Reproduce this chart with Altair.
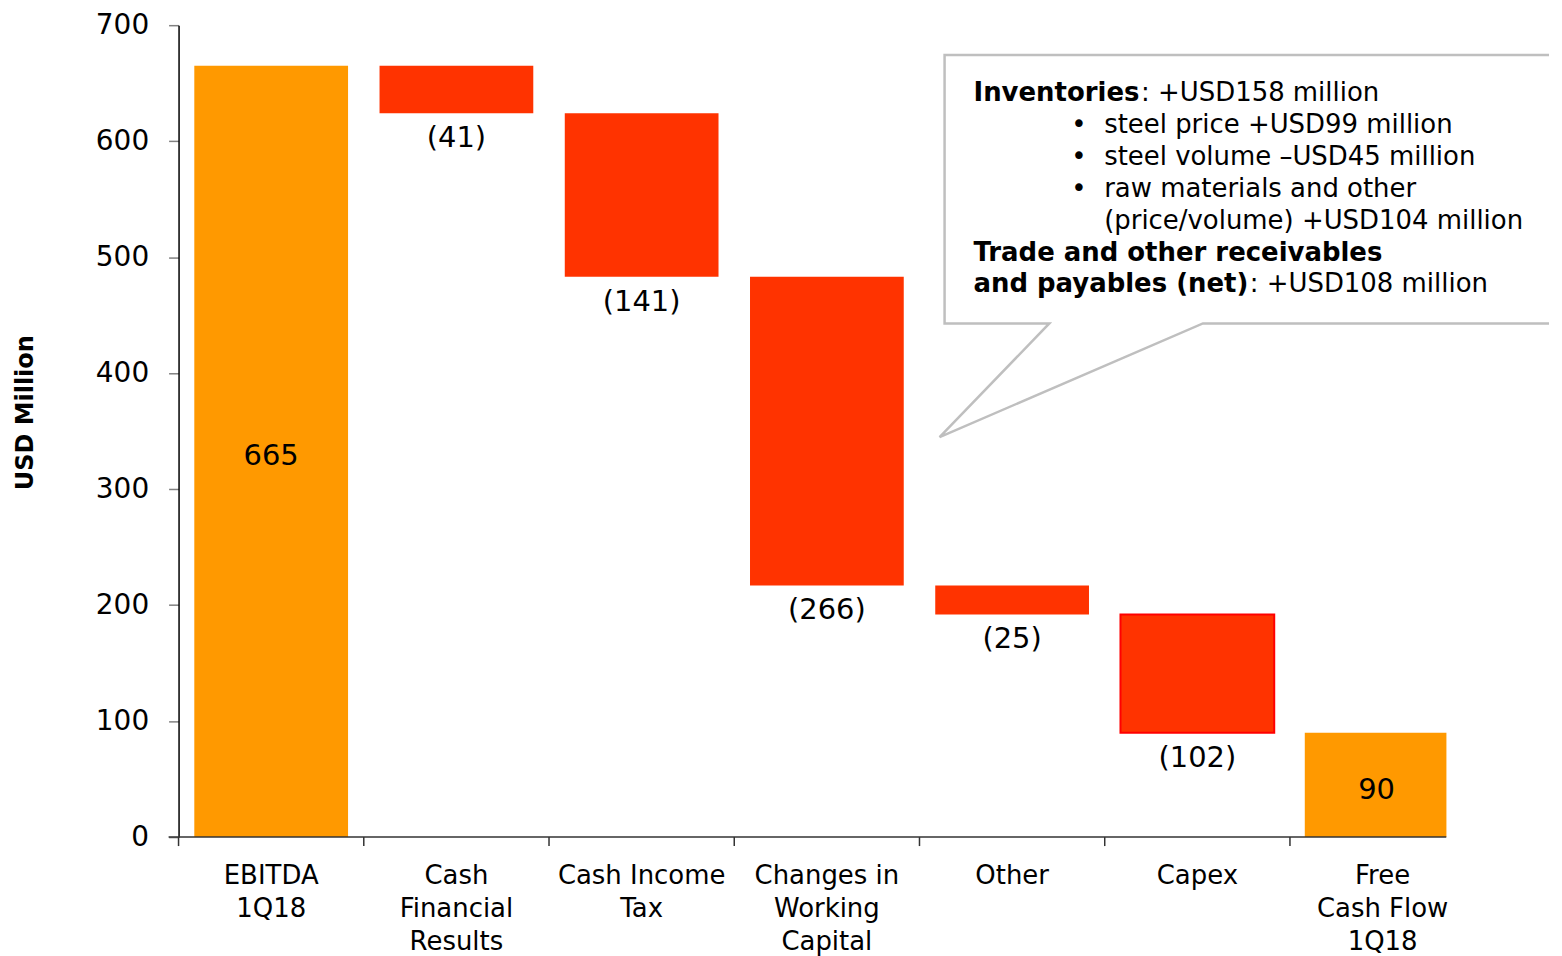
import altair as alt
import pandas as pd

FONT = "DejaVu Sans"

# ---- data ----
categories = ["EBITDA\n1Q18", "Cash\nFinancial\nResults", "Cash Income\nTax",
              "Changes in\nWorking\nCapital", "Other", "Capex", "Free\nCash Flow\n1Q18"]
values = [665, -41, -141, -266, -25, -102, 90]
kinds = ["total", "delta", "delta", "delta", "delta", "delta", "total"]
labels = ["665", "(41)", "(141)", "(266)", "(25)", "(102)", "90"]
y_ticks = [0, 100, 200, 300, 400, 500, 600, 700]

note_head = "Inventories"
note_head_rest = ": +USD158 million"
note_bullets = ["•", "•", "•"]
note_items = ["steel price +USD99 million", "steel volume \u2013USD45 million",
              "raw materials and other", "(price/volume) +USD104 million"]
note_trade = ["Trade and other receivables", "and payables (net)"]
note_trade_rest = ": +USD108 million"

# waterfall levels
starts, ends = [], []
level = 0
for v, k in zip(values, kinds):
    if k == "total":
        starts.append(0)
        ends.append(v)
        level = v
    else:
        starts.append(level)
        ends.append(level + v)
        level += v

df = pd.DataFrame({
    "cat": categories, "value": values, "kind": kinds, "label": labels,
    "start": starts, "end": ends,
})
df["mid"] = (df["start"] + df["end"]) / 2
df["last"] = [i == len(categories) - 1 for i in range(len(categories))]

W, H = 1300, 814


def xenc(**kw):
    return alt.X(
        "cat:N", sort=categories, title=None,
        scale=alt.Scale(paddingInner=0.17, paddingOuter=0.085),
        axis=alt.Axis(labelAngle=0, labelFontSize=26, labelLineHeight=33,
                      labelPadding=26, ticks=False, tickSize=0, domain=False,
                      labelColor="black", labelFont=FONT, labelLimit=0,
                      labelExpr="split(datum.label, '\\n')"),
        **kw)


yscale = alt.Scale(domain=[0, 700], nice=False)
color_enc = alt.Color("kind:N", scale=alt.Scale(domain=["total", "delta"],
                                                range=["#FF9900", "#FF3300"]),
                      legend=None)

bars = alt.Chart(df).transform_filter("!datum.last").mark_bar(stroke="#FF0000").encode(
    x=xenc(),
    y=alt.Y("start:Q", scale=yscale,
            axis=alt.Axis(values=y_ticks, tickSize=10, tickColor="#808080",
                          tickWidth=1.5, domainColor="black", domainWidth=1.5,
                          labelFontSize=28, labelPadding=20, labelColor="black",
                          labelFont=FONT, grid=False, title="USD Million",
                          titleFontSize=24, titleFontWeight="bold",
                          titleFont=FONT, titleColor="black", titlePadding=58,
                          titleY=388)),
    y2="end:Q",
    color=color_enc,
    strokeWidth=alt.condition("datum.cat == 'Capex'", alt.value(2), alt.value(0)),
)

last_bar = alt.Chart(df).transform_filter("datum.last").mark_bar(
    size=142, xOffset=-7
).encode(x=xenc(), y=alt.Y("start:Q", scale=yscale), y2="end:Q", color=color_enc)

total_labels = alt.Chart(df).transform_filter("datum.kind == 'total' && !datum.last").mark_text(
    font=FONT, fontSize=29, color="black", baseline="middle", dy=5
).encode(x=xenc(), y=alt.Y("mid:Q", scale=yscale), text="label:N")

last_label = alt.Chart(df).transform_filter("datum.last").mark_text(
    font=FONT, fontSize=29, color="black", baseline="middle", dy=5, dx=-6
).encode(x=xenc(), y=alt.Y("mid:Q", scale=yscale), text="label:N")

delta_labels = alt.Chart(df).transform_filter("datum.kind == 'delta'").mark_text(
    font=FONT, fontSize=29, color="black", baseline="middle", dy=25
).encode(x=xenc(), y=alt.Y("end:Q", scale=yscale), text="label:N")

ticks = alt.Chart(df).mark_rule(color="#333333", strokeWidth=1.5, xOffset=-15.8).encode(
    x=xenc(bandPosition=0), y=alt.value(H), y2=alt.value(H + 9))

one = pd.DataFrame({"k": [0]})
xline = alt.Chart(one).mark_rule(color="#333333", strokeWidth=1.5).encode(
    x=alt.value(-10), x2=alt.value(1271), y=alt.value(H))

# callout outline (pixel coordinates relative to the plot area)
OX, OY = 178, 24
box_pts = [(1552, 54), (946, 54), (946, 323), (1051, 323), (941, 437),
           (1205, 323), (1552, 323)]
box_df = pd.DataFrame({"i": list(range(len(box_pts))),
                       "px": [p[0] - OX for p in box_pts],
                       "py": [p[1] - OY for p in box_pts]})
box = alt.Chart(box_df).mark_line(color="#BFBFBF", strokeWidth=2.5, clip=False).encode(
    x=alt.X("px:Q", scale=None, axis=None),
    y=alt.Y("py:Q", scale=None, axis=None),
    order="i:Q")


def txt(t, x, y, bold=False):
    return alt.Chart(one).mark_text(
        text=t, align="left", baseline="middle", font=FONT, fontSize=26,
        fontWeight="bold" if bold else "normal", color="black", lineHeight=32
    ).encode(x=alt.value(x - OX), y=alt.value(y - OY))


notes = [
    txt(note_head, 975, 92, bold=True),
    txt(note_head_rest, 1143, 92),
    txt(note_bullets, 1073, 124),
    txt(note_items, 1106, 124),
    txt(note_trade, 975, 252, bold=True),
    txt(note_trade_rest, 1252, 284),
]

chart = alt.layer(bars, last_bar, total_labels, last_label, delta_labels, ticks,
                  xline, box, *notes).properties(
    width=W, height=H,
    padding={"left": 5, "top": 2, "right": 0, "bottom": 0},
).configure(font=FONT).configure_view(stroke=None)

chart.save("out.html", embed_options={"renderer": "svg", "actions": False})
